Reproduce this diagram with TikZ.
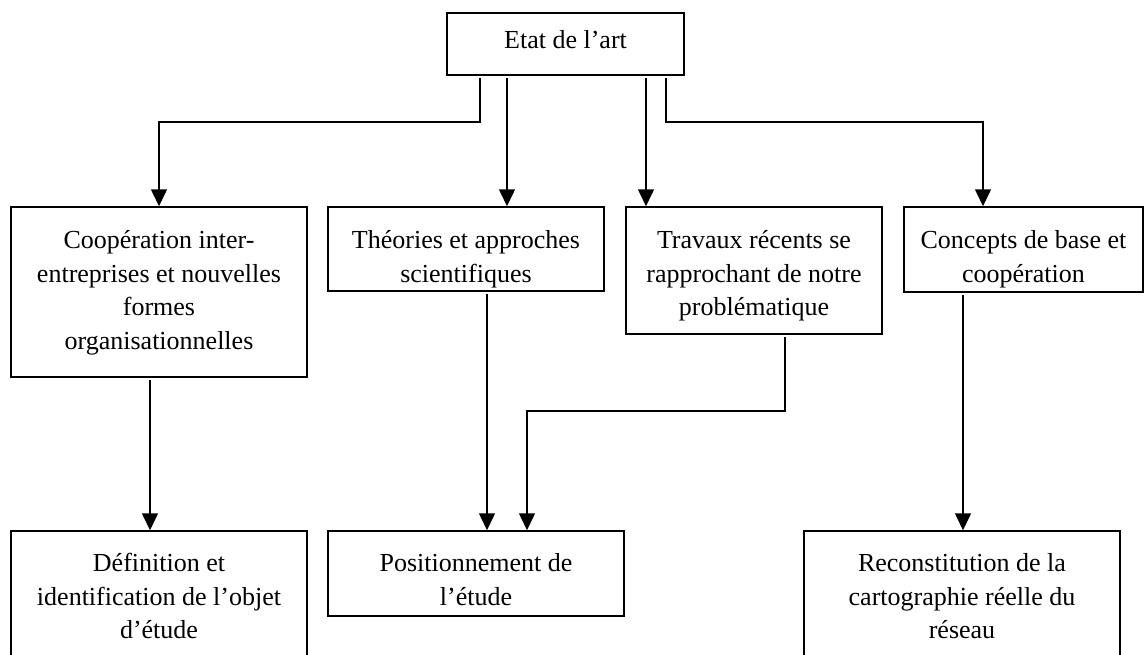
\documentclass[tikz,border=0pt]{standalone}
\usepackage{fontspec}
\setmainfont{Liberation Serif}
\usetikzlibrary{arrows.meta,calc}

\tikzset{
  boite/.style={draw,line width=1.5pt,inner sep=0pt},
  texte/.style={anchor=north,align=center,inner sep=0pt,font=\fontsize{26}{33.5}\selectfont},
  fleche/.style={line width=1.5pt,-{Triangle[width=16pt,length=17pt]},shorten <=2pt},
}

\begin{document}
\begin{tikzpicture}[x=1pt,y=-1pt]
  \useasboundingbox (0,0) rectangle (1146,654);
  \clip (0,0) rectangle (1146,654);

  % boites
  \node[boite,minimum width=237pt,minimum height=62pt] (etat) at (565.5,44) {};
  \node[boite,minimum width=296pt,minimum height=170pt] (coop) at (159,292) {};
  \node[boite,minimum width=276pt,minimum height=84pt] (theo) at (466,249) {};
  \node[boite,minimum width=256pt,minimum height=127pt] (trav) at (754,270.5) {};
  \node[boite,minimum width=239pt,minimum height=85pt] (conc) at (1023.5,249.5) {};
  \node[boite,minimum width=296pt,minimum height=160pt] (defi) at (159,611) {};
  \node[boite,minimum width=296pt,minimum height=85pt] (posi) at (476,573.5) {};
  \node[boite,minimum width=316pt,minimum height=160pt] (reco) at (962,611) {};

  % textes
  \node[texte] (tetat) at ([yshift=-13pt]etat.north) {\strut Etat de l'art};
  \node[texte] (tcoop) at ([yshift=-19pt]coop.north) {\strut Coopération inter-\\entreprises et nouvelles\\formes\\organisationnelles};
  \node[texte] (ttheo) at ([yshift=-19pt]theo.north) {\strut Théories et approches\\scientifiques};
  \node[texte] (ttrav) at ([yshift=-19pt]trav.north) {\strut Travaux récents se\\rapprochant de notre\\problématique};
  \node[texte] (tconc) at ([yshift=-19pt]conc.north) {\strut Concepts de base et\\coopération};
  \node[texte] (tdefi) at ([yshift=-18pt]defi.north) {\strut Définition et\\identification de l'objet\\d'étude};
  \node[texte] (tposi) at ([yshift=-18pt]posi.north) {\strut Positionnement de\\l'étude};
  \node[texte] (treco) at ([yshift=-18pt]reco.north) {\strut Reconstitution de la\\cartographie réelle du\\réseau};

  % depart des fleches
  \coordinate (e1) at ($(etat.south)+(-85.5,0)$);
  \coordinate (e2) at ($(etat.south)+(-58.5,0)$);
  \coordinate (e3) at ($(etat.south)+(80.5,0)$);
  \coordinate (e4) at ($(etat.south)+(100.5,0)$);
  \coordinate (c1) at ($(coop.south)+(-9,0)$);
  \coordinate (t1) at ($(theo.south)+(21,0)$);
  \coordinate (t2) at ($(trav.south)+(31,0)$);
  \coordinate (k1) at ($(conc.south)+(-60.5,0)$);

  % fleches
  \draw[fleche] (e1) -- ++(0,46) -| (coop.north);
  \draw[fleche] (e2) -- (e2 |- theo.north);
  \draw[fleche] (e3) -- (e3 |- trav.north);
  \draw[fleche] (e4) -- ++(0,46) -| ($(conc.north)+(-40.5,0)$);
  \draw[fleche] (c1) -- (c1 |- defi.north);
  \draw[fleche] (t1) -- (t1 |- posi.north);
  \draw[fleche] (t2) -- ++(0,76) -| ($(posi.north)+(51,0)$);
  \draw[fleche] (k1) -- (k1 |- reco.north);
\end{tikzpicture}
\end{document}
